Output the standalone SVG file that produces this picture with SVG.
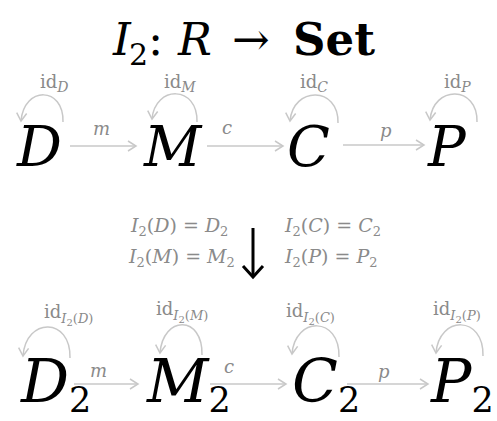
<svg xmlns="http://www.w3.org/2000/svg" width="497" height="421" viewBox="0 0 497 421">
<style>
.m{font-family:"DejaVu Serif","Liberation Serif",serif;font-style:italic;fill:#000}
.u{font-style:normal}
.b{font-style:normal;font-weight:bold}
.lab{font-family:"DejaVu Serif","Liberation Serif",serif;fill:#8a8a8a;font-size:18px}
.it{font-style:italic}
.eq{font-family:"DejaVu Serif","Liberation Serif",serif;fill:#8a8a8a;font-size:19px;font-style:italic}
.c{fill:none;stroke:#c8c8c8;stroke-width:1.5}
</style>
<defs>
<marker id="ah" markerWidth="12" markerHeight="12" refX="9" refY="6" orient="auto" markerUnits="userSpaceOnUse">
<path d="M1,1 L9,6 L1,11" fill="none" stroke="#c8c8c8" stroke-width="1.5"/>
</marker>
</defs>
<rect width="497" height="421" fill="#fff"/>
<g id="title">
<text class="m" font-size="45" y="55"><tspan x="113">I</tspan><tspan class="u" x="129" y="65" font-size="30">2</tspan><tspan class="u" x="148" y="55">:</tspan><tspan x="178">R</tspan><tspan class="u" x="232">→</tspan><tspan class="b" x="293">Set</tspan></text>
</g>
<g id="connectors">
<line class="c" x1="70" y1="146" x2="136" y2="146" marker-end="url(#ah)"/>
<line class="c" x1="207" y1="146" x2="283" y2="146" marker-end="url(#ah)"/>
<line class="c" x1="343" y1="145" x2="424" y2="145" marker-end="url(#ah)"/>
<path class="c" d="M63,122 C64,86 24,86 21,121" marker-end="url(#ah)"/>
<path class="c" d="M197,122 C198,85 155,85 152,119" marker-end="url(#ah)"/>
<path class="c" d="M338,123 C339,86 293,86 290,121" marker-end="url(#ah)"/>
<path class="c" d="M477,122 C478,85 433,85 430,120" marker-end="url(#ah)"/>
<line class="c" x1="74" y1="384" x2="138" y2="384" marker-end="url(#ah)"/>
<line class="c" x1="210" y1="384" x2="286" y2="384" marker-end="url(#ah)"/>
<line class="c" x1="347" y1="384" x2="428" y2="384" marker-end="url(#ah)"/>
<path class="c" d="M70,358 C71,317 26,317 23,356" marker-end="url(#ah)"/>
<path class="c" d="M202,355 C203,315 163,315 160,353" marker-end="url(#ah)"/>
<path class="c" d="M339,357 C340,316 295,316 292,354" marker-end="url(#ah)"/>
<path class="c" d="M483,356 C484,315 439,315 436,353" marker-end="url(#ah)"/>
<g class="lab" font-size="20">
<text x="93" y="135" class="it">m</text>
<text x="222" y="134" class="it">c</text>
<text x="380" y="137" class="it">p</text>
<text x="90" y="377" class="it">m</text>
<text x="224" y="373" class="it">c</text>
<text x="378" y="378" class="it">p</text>
</g>
</g>
<g id="D"><text class="m" font-size="56" x="17" y="166">D</text><text class="lab" x="40" y="88">id<tspan class="it" font-size="14" y="92">D</tspan></text></g>
<g id="M"><text class="m" font-size="56" x="144" y="166">M</text><text class="lab" x="164" y="88">id<tspan class="it" font-size="14" y="92">M</tspan></text></g>
<g id="C"><text class="m" font-size="56" x="287" y="166">C</text><text class="lab" x="300" y="88">id<tspan class="it" font-size="14" y="92">C</tspan></text></g>
<g id="P"><text class="m" font-size="56" x="428" y="166">P</text><text class="lab" x="444" y="88">id<tspan class="it" font-size="14" y="92">P</tspan></text></g>
<g id="functor">
<text class="eq" x="131" y="232">I<tspan class="u" font-size="13" dy="4">2</tspan><tspan class="u" dy="-4">(</tspan>D<tspan class="u">) = </tspan>D<tspan class="u" font-size="13" dy="4">2</tspan></text>
<text class="eq" x="129" y="263">I<tspan class="u" font-size="13" dy="4">2</tspan><tspan class="u" dy="-4">(</tspan>M<tspan class="u">) = </tspan>M<tspan class="u" font-size="13" dy="4">2</tspan></text>
<text class="eq" x="285" y="232">I<tspan class="u" font-size="13" dy="4">2</tspan><tspan class="u" dy="-4">(</tspan>C<tspan class="u">) = </tspan>C<tspan class="u" font-size="13" dy="4">2</tspan></text>
<text class="eq" x="285" y="263">I<tspan class="u" font-size="13" dy="4">2</tspan><tspan class="u" dy="-4">(</tspan>P<tspan class="u">) = </tspan>P<tspan class="u" font-size="13" dy="4">2</tspan></text>
<line x1="253" y1="228" x2="253" y2="276" stroke="#000" stroke-width="3"/>
<path d="M243,266 L253,277 L263,266" fill="none" stroke="#000" stroke-width="3"/>
</g>
<g id="D2"><text class="m" font-size="60" x="21" y="402">D<tspan class="u" font-size="35" y="412">2</tspan></text><text class="lab" x="44" y="318">id<tspan class="it" font-size="13" y="323">I<tspan class="u" font-size="10" dy="3">2</tspan><tspan class="u" dy="-3">(</tspan>D<tspan class="u">)</tspan></tspan></text></g>
<g id="M2"><text class="m" font-size="60" x="147" y="402">M<tspan class="u" font-size="35" y="412">2</tspan></text><text class="lab" x="156" y="315">id<tspan class="it" font-size="13" y="320">I<tspan class="u" font-size="10" dy="3">2</tspan><tspan class="u" dy="-3">(</tspan>M<tspan class="u">)</tspan></tspan></text></g>
<g id="C2"><text class="m" font-size="60" x="292" y="402">C<tspan class="u" font-size="35" y="412">2</tspan></text><text class="lab" x="286" y="317">id<tspan class="it" font-size="13" y="322">I<tspan class="u" font-size="10" dy="3">2</tspan><tspan class="u" dy="-3">(</tspan>C<tspan class="u">)</tspan></tspan></text></g>
<g id="P2"><text class="m" font-size="60" x="431" y="402">P<tspan class="u" font-size="35" y="412">2</tspan></text><text class="lab" x="433" y="315">id<tspan class="it" font-size="13" y="320">I<tspan class="u" font-size="10" dy="3">2</tspan><tspan class="u" dy="-3">(</tspan>P<tspan class="u">)</tspan></tspan></text></g>
</svg>
